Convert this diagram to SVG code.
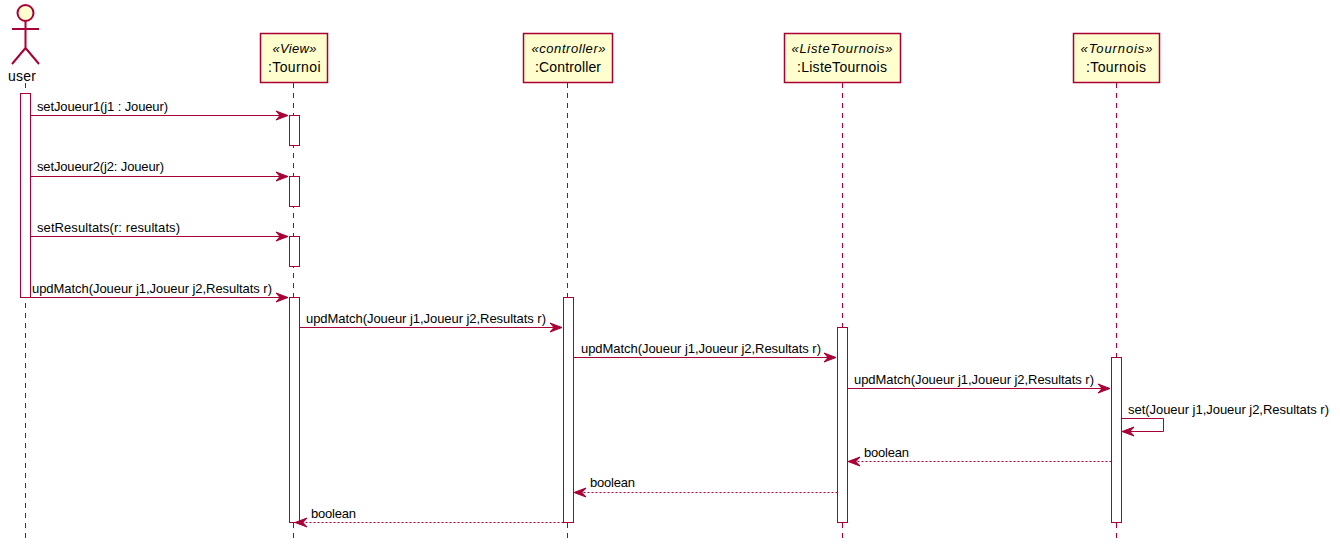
<svg xmlns="http://www.w3.org/2000/svg" width="1340" height="551" viewBox="0 0 1340 551">
<style>
text{font-family:"Liberation Sans",Arial,sans-serif;font-size:13px;fill:#000}
.n{font-size:14px}
.s{font-size:13px;font-style:italic}
.box{fill:#FEFECE;stroke:#A80036;stroke-width:1.5}
.act{fill:#fff;stroke:#A80036;stroke-width:1}
.life{stroke:#A80036;stroke-width:1;stroke-dasharray:5 5;fill:none}
.m{stroke:#A80036;stroke-width:1;fill:none}
.r{stroke:#A80036;stroke-width:1;stroke-dasharray:2 2;fill:none}
.h{fill:#A80036;stroke:#A80036;stroke-width:1}
</style>
<defs>
<path id="ar" class="h" d="M0 0L-12 -4.500L-8 0L-12 4.500Z"/>
<path id="al" class="h" d="M0 0L12 -4.500L8 0L12 4.500Z"/>
</defs>
<g id="lifelines">
<line class="life" x1="25.500" y1="83" x2="25.500" y2="540"/>
<line class="life" x1="293.500" y1="83" x2="293.500" y2="540"/>
<line class="life" x1="567.500" y1="83" x2="567.500" y2="540"/>
<line class="life" x1="842.500" y1="83" x2="842.500" y2="540"/>
<line class="life" x1="1116.500" y1="83" x2="1116.500" y2="540"/>
</g>
<g id="user">
<circle cx="25.500" cy="13" r="8" fill="#FEFECE" stroke="#A80036" stroke-width="2"/>
<path d="M25.500 21V48M12 29H39M25.500 48L12 64M25.500 48L39 64" fill="none" stroke="#A80036" stroke-width="2"/>
<text class="n" x="8" y="81" textLength="28">user</text>
</g>
<g id="view">
<rect class="box" x="260.500" y="33.500" width="67" height="49"/>
<text class="s" x="272.500" y="53" textLength="44">«View»</text>
<text class="n" x="268" y="72" textLength="52.500">:Tournoi</text>
</g>
<g id="controller">
<rect class="box" x="523.500" y="33.500" width="89" height="49"/>
<text class="s" x="531.500" y="53" textLength="74">«controller»</text>
<text class="n" x="535" y="72" textLength="66">:Controller</text>
</g>
<g id="listetournois">
<rect class="box" x="784.500" y="33.500" width="116" height="49"/>
<text class="s" x="791.500" y="53" textLength="101">«ListeTournois»</text>
<text class="n" x="797" y="72" textLength="90">:ListeTournois</text>
</g>
<g id="tournois">
<rect class="box" x="1073.500" y="33.500" width="86" height="49"/>
<text class="s" x="1080.500" y="53" textLength="72">«Tournois»</text>
<text class="n" x="1086" y="72" textLength="60">:Tournois</text>
</g>
<g id="activations">
<rect class="act" x="20.500" y="93.500" width="10" height="204"/>
<rect class="act" x="289.500" y="115.500" width="10" height="30"/>
<rect class="act" x="289.500" y="176.500" width="10" height="30"/>
<rect class="act" x="289.500" y="236.500" width="10" height="30"/>
<rect class="act" x="289.500" y="297.500" width="10" height="225"/>
<rect class="act" x="563.500" y="297.500" width="10" height="225"/>
<rect class="act" x="837.500" y="327.500" width="10" height="195"/>
<rect class="act" x="1111.500" y="357.500" width="10" height="165"/>
</g>
<g id="connectors">
<line class="m" x1="30.500" y1="115.500" x2="288" y2="115.500"/><use href="#ar" x="288" y="115.500"/>
<line class="m" x1="30.500" y1="176.500" x2="288" y2="176.500"/><use href="#ar" x="288" y="176.500"/>
<line class="m" x1="30.500" y1="236.500" x2="288" y2="236.500"/><use href="#ar" x="288" y="236.500"/>
<line class="m" x1="30.500" y1="297.500" x2="288" y2="297.500"/><use href="#ar" x="288" y="297.500"/>
<line class="m" x1="299.500" y1="327.500" x2="562" y2="327.500"/><use href="#ar" x="562" y="327.500"/>
<line class="m" x1="573.500" y1="357.500" x2="836" y2="357.500"/><use href="#ar" x="836" y="357.500"/>
<line class="m" x1="847.500" y1="388.500" x2="1110" y2="388.500"/><use href="#ar" x="1110" y="388.500"/>
<path class="m" d="M1121.500 418.500H1163.500V431.500H1123"/><use href="#al" x="1122" y="431.500"/>
<line class="r" x1="1111.500" y1="461.500" x2="849" y2="461.500"/><use href="#al" x="848" y="461.500"/>
<line class="r" x1="837.500" y1="492.500" x2="575" y2="492.500"/><use href="#al" x="574" y="492.500"/>
<line class="r" x1="563.500" y1="522.500" x2="301" y2="522.500"/><use href="#al" x="295" y="522.500"/>
</g>
<g id="labels">
<text x="37" y="111" textLength="131">setJoueur1(j1 : Joueur)</text>
<text x="37" y="171" textLength="127">setJoueur2(j2: Joueur)</text>
<text x="37" y="232" textLength="143">setResultats(r: resultats)</text>
<text x="32" y="293" textLength="240">updMatch(Joueur j1,Joueur j2,Resultats r)</text>
<text x="306" y="323" textLength="240">updMatch(Joueur j1,Joueur j2,Resultats r)</text>
<text x="581" y="353" textLength="240">updMatch(Joueur j1,Joueur j2,Resultats r)</text>
<text x="854" y="384" textLength="240">updMatch(Joueur j1,Joueur j2,Resultats r)</text>
<text x="1128" y="414" textLength="201">set(Joueur j1,Joueur j2,Resultats r)</text>
<text x="864" y="457" textLength="45">boolean</text>
<text x="590" y="487" textLength="45">boolean</text>
<text x="311" y="518" textLength="45">boolean</text>
</g>
</svg>
